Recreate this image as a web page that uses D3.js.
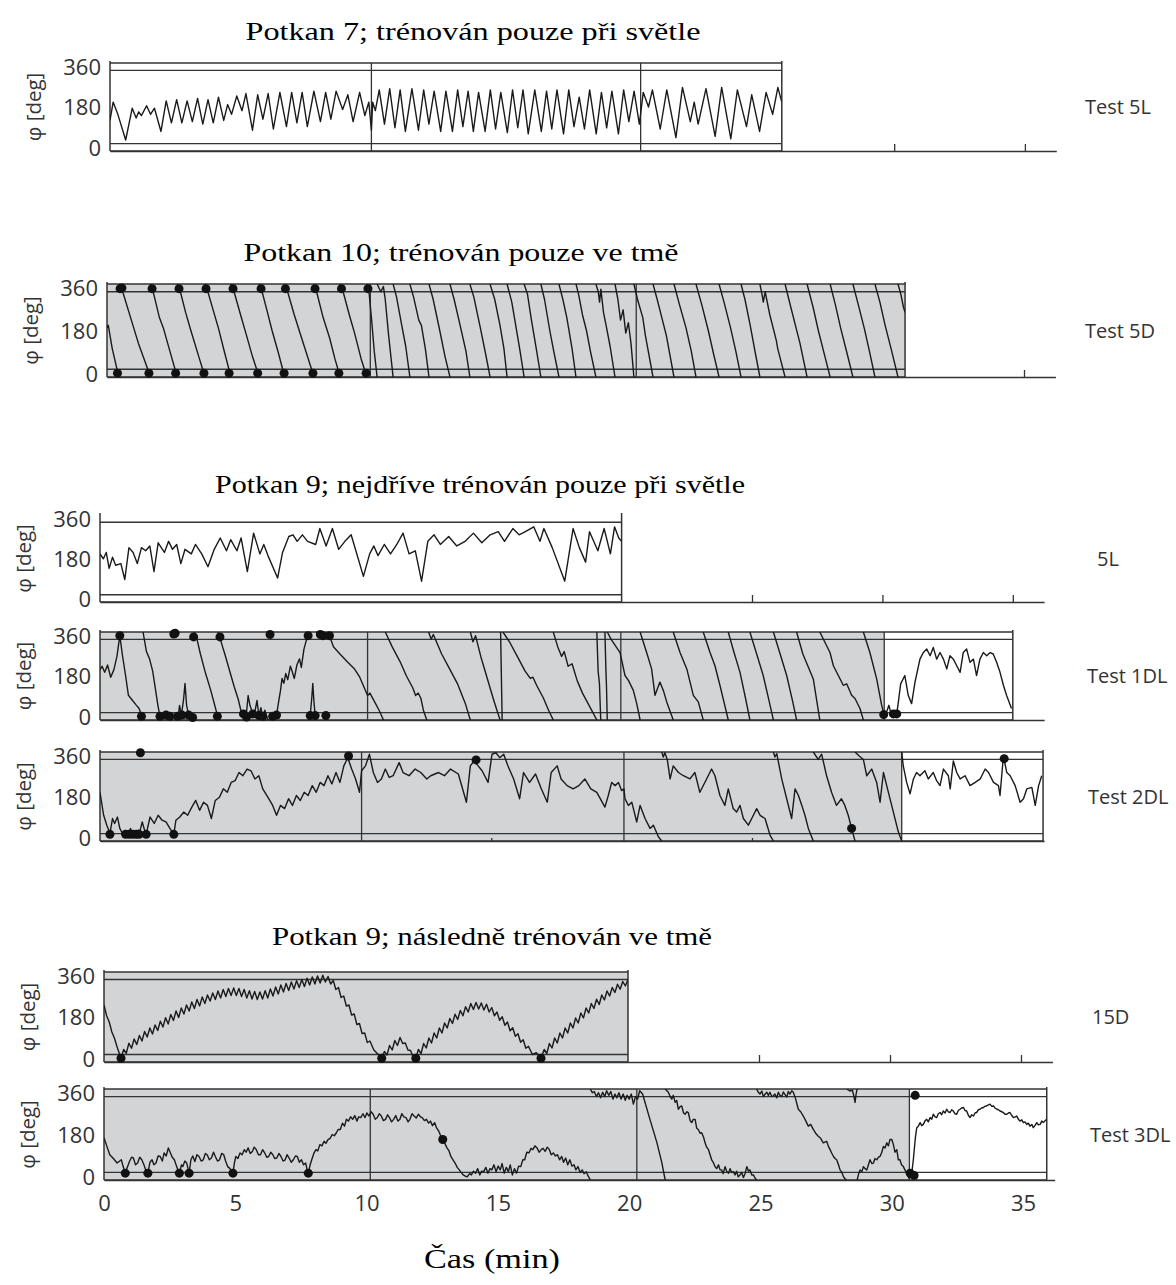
<!DOCTYPE html>
<html><head><meta charset="utf-8">
<script src="https://cdn.jsdelivr.net/npm/d3@7"></script>
<style>body{margin:0;background:#fff}</style>
</head><body>
<svg id="c" width="1176" height="1285"></svg>
<script>
// ---------------- DATA ----------------
const titles = ["Potkan 7; trénován pouze při světle","Potkan 10; trénován pouze ve tmě","Potkan 9; nejdříve trénován pouze při světle","Potkan 9; následně trénován ve tmě"];
const rightLabels = ["Test 5L","Test 5D","5L","Test 1DL","Test 2DL","15D","Test 3DL"];
const yLabel = "φ [deg]";
const xTitle = "Čas (min)";
const yTickValues = [0,180,360];
const xTickValues = [0,5,10,15,20,25,30,35];
const bandLines = [30,330];
const boxEnds = [25.7,30.46,20,35,36.16,20,35.9];
const shadeEnds = [0,30.46,0,30.07,30.74,20,30.67];
const dividers = [[10,20.3],[10.05,20.2],[],[10.26,19.97,30.07],[10.03,20.09,30.74],[],[10.14,20.29,30.67]];
const axisTicks = [[30,35],[35],[25,30,35],[],[15,25],[25,30,35],[]];

// Potkan 7, Test 5L
const trace5L_r7 = [[0,125],[0.12,200],[0.3,150],[0.6,45],[0.85,175],[1.0,135],[1.1,160],[1.2,145],[1.4,185],[1.55,150],[1.7,175],[1.95,80],[2.15,205],[2.35,115],[2.55,210],[2.75,115],[2.95,205],[3.15,120],[3.35,215],[3.55,110],[3.75,210],[3.95,115],[4.15,220],[4.35,125],[4.5,190],[4.65,150],[4.85,225],[5.05,165],[5.2,235],[5.45,85],[5.65,230],[5.85,130],[6.05,235],[6.25,90],[6.5,240],[6.75,100],[6.95,240],[7.15,115],[7.35,240],[7.55,100],[7.8,245],[8.05,120],[8.25,240],[8.45,130],[8.65,245],[8.9,170],[9.1,230],[9.3,120],[9.55,240],[9.75,145],[9.9,200],[10.0,85],
[10.05,200],[10.15,165],[10.3,250],[10.5,110],[10.7,255],[10.9,95],[11.1,250],[11.3,80],[11.55,255],[11.8,85],[12.0,250],[12.2,110],[12.4,245],[12.65,80],[12.85,245],[13.1,80],[13.3,250],[13.5,100],[13.7,245],[13.9,80],[14.1,240],[14.35,80],[14.55,250],[14.75,90],[14.95,240],[15.2,75],[15.4,250],[15.6,95],[15.8,250],[16.0,70],[16.25,250],[16.5,80],[16.7,245],[16.9,90],[17.1,250],[17.35,70],[17.55,250],[17.75,100],[17.95,220],[18.15,90],[18.35,250],[18.6,70],[18.8,240],[19.0,95],[19.2,245],[19.45,70],[19.65,250],[19.85,120],[20.05,245],[20.25,110],
[20.4,240],[20.6,180],[20.75,250],[21.05,90],[21.3,250],[21.65,55],[21.9,260],[22.2,120],[22.35,200],[22.5,110],[22.8,255],[23.15,60],[23.4,260],[23.75,50],[24.0,250],[24.35,100],[24.55,230],[24.85,80],[25.1,240],[25.35,150],[25.55,260],[25.7,200]];

// Potkan 10, Test 5D (null = wrap 0/360)
const trace5D_r10 = [[0,190],[0.05,200],[0.2,110],[0.45,0],null,
[0.45,360],[0.6,330],[0.9,230],[1.2,130],[1.45,60],[1.66,0],null,
[1.66,360],[1.75,335],[2.0,230],[2.15,190],[2.4,100],[2.68,0],null,
[2.68,360],[2.8,330],[3.0,250],[3.2,180],[3.5,80],[3.74,0],null,
[3.74,360],[3.85,330],[4.05,260],[4.25,190],[4.5,90],[4.73,0],null,
[4.73,360],[4.85,330],[5.1,240],[5.3,170],[5.55,80],[5.81,0],null,
[5.81,360],[5.92,330],[6.1,260],[6.3,180],[6.55,90],[6.78,0],null,
[6.78,360],[6.88,335],[7.15,240],[7.4,160],[7.65,80],[7.9,0],null,
[7.9,360],[8.0,330],[8.25,230],[8.5,150],[8.7,70],[8.9,0],null,
[8.9,360],[9.0,335],[9.25,240],[9.45,170],[9.7,70],[9.92,0],null,
[9.92,360],[10.0,330],[10.1,220],[10.2,100],[10.31,0],null,
[10.31,360],[10.45,330],[10.55,350],[10.62,300],[10.75,160],[10.92,0],null,
[10.92,360],[11.05,310],[11.25,200],[11.4,120],[11.56,0],null,
[11.56,360],[11.7,310],[11.9,220],[12.0,200],[12.15,110],[12.29,0],null,
[12.29,360],[12.45,300],[12.7,180],[12.9,80],[13.09,0],null,
[13.09,360],[13.25,300],[13.5,190],[13.7,100],[13.85,0],null,
[13.85,360],[14.0,310],[14.25,190],[14.45,90],[14.62,0],null,
[14.62,360],[14.8,300],[15.0,200],[15.15,110],[15.27,0],null,
[15.27,360],[15.45,290],[15.6,200],[15.75,110],[15.92,0],null,
[15.92,360],[16.05,320],[16.2,220],[16.4,100],[16.56,0],null,
[16.56,360],[16.7,300],[16.9,180],[17.05,100],[17.25,0],null,
[17.25,360],[17.4,300],[17.55,230],[17.6,200],[17.75,110],[17.9,0],null,
[17.9,360],[18.0,320],[18.15,240],[18.3,180],[18.45,100],[18.66,0],null,
[18.66,360],[18.75,330],[18.8,290],[18.85,340],[18.95,250],[19.05,200],[19.2,120],[19.39,0],null,
[19.39,360],[19.5,300],[19.6,220],[19.7,260],[19.8,170],[19.9,210],[20.0,130],[20.11,0],null,
[20.11,360],[20.25,300],[20.45,230],[20.55,160],[20.84,0],null,
[20.84,360],[21.0,300],[21.2,220],[21.35,160],[21.64,0],null,
[21.64,360],[21.85,280],[22.1,190],[22.3,100],[22.48,0],null,
[22.48,360],[22.7,280],[22.95,180],[23.15,90],[23.36,0],null,
[23.36,360],[23.55,290],[23.8,190],[24.0,100],[24.2,0],null,
[24.2,360],[24.35,300],[24.55,200],[24.75,90],[24.92,0],null,
[24.92,360],[25.0,320],[25.05,290],[25.12,330],[25.3,240],[25.55,140],[25.6,110],[25.88,0],null,
[25.88,360],[26.1,270],[26.3,190],[26.45,130],[26.72,0],null,
[26.72,360],[26.95,270],[27.15,180],[27.4,80],[27.6,0],null,
[27.6,360],[27.8,280],[28.0,190],[28.25,90],[28.47,0],null,
[28.47,360],[28.65,290],[28.9,190],[29.1,100],[29.31,0],null,
[29.31,360],[29.5,290],[29.7,200],[29.95,100],[30.19,0],null,
[30.19,360],[30.3,320],[30.4,270],[30.46,250]];
const dots5D_r10 = [[0.5,342],[0.57,345],[1.72,342],[2.75,342],[3.78,342],[4.81,342],[5.88,342],[6.81,342],[7.94,342],[8.95,342],[9.96,342],
[0.4,15],[1.6,15],[2.62,15],[3.7,15],[4.66,15],[5.75,15],[6.76,15],[7.86,15],[8.85,15],[9.89,15]];

// Potkan 9, 5L
const trace5L_r9 = [[0,199],[0.13,179],[0.24,205],[0.35,139],[0.48,185],[0.6,152],[0.8,159],[0.95,93],[1.11,225],[1.27,205],[1.43,159],[1.59,225],[1.75,212],[1.91,232],[2.07,126],[2.23,245],[2.47,205],[2.63,251],[2.78,218],[2.94,238],[3.1,159],[3.26,218],[3.5,199],[3.66,238],[3.9,199],[4.14,146],[4.38,218],[4.61,265],[4.85,212],[5.01,258],[5.25,212],[5.41,265],[5.65,126],[5.89,285],[6.13,199],[6.28,238],[6.44,192],[6.81,99],[7.0,205],[7.24,271],[7.4,278],[7.56,251],[7.76,278],[7.96,251],[8.27,238],[8.43,304],[8.67,232],[8.91,304],[9.15,218],[9.39,251],[9.63,278],[10.1,106],[10.34,199],[10.5,232],[10.66,192],[10.9,238],[11.14,199],[11.38,238],[11.62,285],[11.85,199],[12.09,212],[12.33,86],[12.57,251],[12.81,278],[13.05,238],[13.37,271],[13.68,232],[14.0,251],[14.32,285],[14.64,245],[14.96,278],[15.27,291],[15.51,251],[15.83,304],[16.07,278],[16.31,291],[16.63,311],[16.87,251],[17.02,304],[17.34,225],[17.82,86],[18.14,304],[18.38,225],[18.62,165],[18.77,291],[19.09,212],[19.33,304],[19.57,199],[19.73,311],[19.89,265],[20.0,251]];

// Potkan 9, Test 1DL
const trace1DL_r9 = [[0,205],[0.08,220],[0.18,195],[0.29,225],[0.41,175],[0.53,205],[0.65,260],[0.76,345],[0.86,265],[0.98,182],[1.09,101],[1.24,81],[1.39,61],[1.5,47],[1.62,7],[1.65,0],null,
[1.65,360],[1.78,280],[1.9,250],[2.02,200],[2.12,130],[2.22,60],[2.3,15],[2.4,10],[2.53,20],[2.6,8],[2.68,15],[2.75,5],[2.8,0],null,
[2.8,360],[2.86,340],[2.92,360],null,
[2.92,0],[3.0,15],[3.05,60],[3.12,20],[3.2,80],[3.26,150],[3.32,60],[3.4,20],[3.5,5],[3.58,15],[3.62,0],null,
[3.62,360],[3.72,330],[3.85,270],[4.05,190],[4.25,120],[4.45,40],[4.52,0],null,
[4.52,360],[4.6,335],[4.8,265],[5.0,190],[5.15,135],[5.3,85],[5.4,40],[5.5,25],[5.6,10],[5.68,100],[5.75,60],[5.86,25],[5.95,40],[6.02,80],[6.09,18],[6.17,50],[6.24,15],[6.32,40],[6.42,5],[6.48,0],null,
[6.48,360],[6.52,345],[6.56,360],null,
[6.56,0],[6.62,15],[6.7,25],[6.77,20],[6.85,75],[6.92,120],[6.98,170],[7.05,150],[7.12,190],[7.2,165],[7.3,220],[7.38,195],[7.45,170],[7.55,225],[7.65,250],[7.72,215],[7.82,290],[7.92,330],[8.0,360],null,
[8.0,0],[8.06,18],[8.12,90],[8.16,150],[8.2,80],[8.25,18],[8.3,0],null,
[8.3,360],[8.38,340],[8.45,350],[8.52,335],[8.58,350],[8.62,360],null,
[8.62,0],[8.66,18],[8.72,0],null,
[8.72,360],[8.8,345],[8.95,300],[9.2,270],[9.5,236],[9.75,210],[9.96,175],[10.1,140],[10.26,100],[10.35,110],[10.5,80],[10.7,40],[10.87,0],null,
[10.94,360],[11.2,300],[11.5,240],[11.75,180],[12.0,130],[12.1,100],[12.2,110],[12.3,90],[12.4,40],[12.53,0],null,
[12.6,360],[12.7,330],[12.78,350],[12.9,320],[13.1,270],[13.4,210],[13.7,150],[14.0,70],[14.2,0],null,
[14.2,360],[14.3,320],[14.4,345],[14.6,260],[14.85,170],[15.1,80],[15.34,0],null,
[15.36,360],[15.42,0],null,
[15.45,360],[15.7,320],[16.0,260],[16.3,200],[16.5,170],[16.6,175],[16.75,140],[17.0,90],[17.2,40],[17.38,0],null,
[17.38,360],[17.55,300],[17.7,260],[17.8,280],[17.95,220],[18.1,230],[18.3,160],[18.5,110],[18.7,70],[18.9,30],[19.05,0],null,
[19.05,360],[19.1,200],[19.15,150],[19.2,0],null,
[19.36,360],[19.4,200],[19.42,140],[19.45,0],null,
[19.45,360],[19.6,330],[19.94,276],[20.13,182],[20.26,162],[20.45,121],[20.58,67],[20.71,0],null,
[20.71,360],[20.96,276],[21.15,209],[21.28,101],[21.47,155],[21.6,121],[21.73,74],[21.98,0],null,
[21.98,360],[22.24,276],[22.5,209],[22.75,101],[22.94,74],[23.13,0],null,
[23.13,360],[23.39,276],[23.58,222],[23.77,142],[24.09,0],null,
[24.09,360],[24.3,280],[24.54,195],[24.75,90],[24.92,0],null,
[24.92,360],[25.15,280],[25.43,182],[25.65,80],[25.82,0],null,
[25.82,360],[26.05,280],[26.33,182],[26.55,80],[26.71,0],null,
[26.71,360],[26.95,270],[27.35,168],[27.6,0],null,
[27.6,360],[27.99,276],[28.12,222],[28.31,182],[28.5,142],[28.63,148],[28.82,101],[28.95,88],[29.14,47],[29.27,0],null,
[29.27,360],[29.52,276],[29.78,168],[29.97,61],[30.07,20],[30.15,30],[30.25,60],[30.32,30],[30.42,25],[30.5,30],[30.55,25],[30.62,80],[30.7,148],[30.86,182],[30.99,101],[31.12,67],[31.25,155],[31.44,249],[31.57,276],[31.7,290],[31.83,263],[31.95,297],[32.08,249],[32.21,276],[32.34,249],[32.47,209],[32.59,263],[32.72,249],[32.85,222],[32.98,195],[33.1,276],[33.23,290],[33.36,236],[33.49,249],[33.61,182],[33.74,249],[33.87,276],[34.0,263],[34.13,276],[34.25,270],[34.38,236],[34.51,195],[34.64,142],[34.76,101],[34.95,47]];
const dots1DL_r9 = [[0.76,345],[2.83,352],[2.88,355],[3.59,340],[4.6,340],[6.52,350],[7.98,345],[8.45,350],[8.55,345],[8.8,345],
[1.59,15],[2.3,15],[2.53,20],[2.68,15],[2.98,15],[3.14,20],[3.4,20],[3.55,10],[4.5,15],[5.5,25],[5.62,12],[5.86,25],[6.09,18],[6.24,15],[6.62,15],[6.77,20],[8.06,18],[8.25,18],[8.66,18],[30.05,22],[30.42,25],[30.55,25]];

// Potkan 9, Test 2DL
const trace2DL_r9 = [[0,197],[0.14,104],[0.26,64],[0.38,31],[0.48,91],[0.56,71],[0.67,97],[0.76,51],[0.86,31],[1.02,37],[1.09,28],[1.17,51],[1.24,28],[1.32,31],[1.39,27],[1.47,44],[1.5,27],[1.62,77],[1.72,40],[1.77,27],[1.92,97],[2.08,71],[2.23,104],[2.38,84],[2.53,77],[2.68,51],[2.83,27],[2.91,84],[3.06,97],[3.21,117],[3.36,104],[3.52,137],[3.67,164],[3.82,124],[3.97,157],[4.12,144],[4.27,91],[4.42,164],[4.58,177],[4.73,211],[4.88,197],[5.03,237],[5.18,244],[5.33,277],[5.48,264],[5.64,291],[5.79,284],[5.94,251],[6.09,264],[6.24,211],[6.47,171],[6.62,144],[6.77,104],[6.92,144],[7.08,131],[7.23,171],[7.38,144],[7.53,184],[7.68,164],[7.83,197],[7.98,184],[8.14,224],[8.29,197],[8.44,237],[8.59,224],[8.74,264],[8.89,231],[9.05,277],[9.2,237],[9.35,304],[9.5,337],[9.65,291],[9.8,251],[9.95,197],[10.03,284],[10.18,304],[10.33,351],[10.48,277],[10.64,237],[10.79,251],[10.94,291],[11.09,257],[11.24,264],[11.47,317],[11.62,277],[11.85,264],[12.08,291],[12.3,277],[12.53,251],[12.68,264],[12.98,277],[13.21,264],[13.44,291],[13.74,271],[14.05,157],[14.2,304],[14.35,324],[14.5,304],[14.65,284],[14.88,237],[15.03,351],[15.18,357],[15.33,337],[15.48,351],[15.64,304],[15.86,251],[16.09,171],[16.24,277],[16.47,237],[16.7,271],[16.92,211],[17.15,157],[17.3,277],[17.53,304],[17.68,251],[17.91,224],[18.14,211],[18.36,224],[18.59,251],[18.82,211],[19.05,197],[19.36,137],[19.49,184],[19.62,237],[19.75,224],[19.88,237],[20.0,204],[20.09,211],[20.13,171],[20.26,144],[20.39,157],[20.58,77],[20.71,144],[20.9,91],[21.09,51],[21.22,64],[21.41,17],[21.54,0],null,
[21.54,360],[21.6,340],[21.66,357],[21.75,330],[21.86,251],[21.98,304],[22.18,277],[22.37,264],[22.62,251],[22.81,277],[23.0,197],[23.26,251],[23.45,291],[23.58,264],[23.77,184],[23.96,144],[24.09,211],[24.28,131],[24.41,117],[24.54,144],[24.67,91],[24.86,64],[24.99,91],[25.18,131],[25.31,104],[25.5,91],[25.69,24],[25.82,0],null,
[25.82,360],[25.88,340],[25.95,353],[26.14,251],[26.33,171],[26.52,91],[26.65,211],[26.78,184],[26.91,144],[27.03,104],[27.16,51],[27.35,0],null,
[27.35,360],[27.54,330],[27.67,351],[27.86,264],[28.05,197],[28.24,144],[28.43,171],[28.56,144],[28.69,104],[28.82,51],[28.95,0],null,
[28.95,360],[29.1,345],[29.27,330],[29.4,264],[29.59,291],[29.78,237],[29.91,157],[30.04,277],[30.23,197],[30.42,117],[30.61,37],[30.74,0],null,
[30.74,360],[30.8,304],[30.93,237],[31.06,191],[31.19,251],[31.31,277],[31.44,264],[31.63,284],[31.76,251],[31.95,277],[32.08,244],[32.21,224],[32.34,291],[32.53,264],[32.6,211],[32.72,324],[32.85,277],[32.98,251],[33.17,264],[33.36,224],[33.56,237],[33.75,251],[33.94,291],[34.07,277],[34.26,237],[34.45,224],[34.51,184],[34.64,344],[34.77,277],[34.9,264],[35.09,224],[35.28,157],[35.41,171],[35.54,211],[35.73,217],[35.86,144],[35.99,224],[36.11,264]];
const dots2DL_r9 = [[0.38,27],[0.98,27],[1.12,27],[1.26,27],[1.39,27],[1.5,27],[1.77,27],[2.83,27],[1.55,357],[9.53,344],[14.42,328],[28.82,51],[34.67,333]];

// Potkan 9, 15D
const trace15D_r9 = [[0,228],[0.1,185],[0.2,160],[0.3,120],[0.4,95],[0.5,60],[0.65,15],[0.75,50],[0.85,35],[0.95,75],[1.05,55],[1.15,92],[1.25,70],[1.35,106],[1.45,84],[1.55,122],[1.65,100],[1.75,136],[1.85,112],[1.95,148],[2.05,126],[2.15,163],[2.25,140],[2.35,177],[2.45,152],[2.55,190],[2.65,166],[2.75,204],[2.85,178],[2.95,216],[3.05,192],[3.15,228],[3.25,204],[3.35,240],[3.45,214],[3.55,250],[3.65,224],[3.75,260],[3.85,234],[3.95,268],[4.05,244],[4.15,276],[4.25,250],[4.35,284],[4.45,256],[4.55,290],[4.65,262],[4.75,294],[4.85,266],[4.95,296],[5.05,266],[5.15,294],[5.25,262],[5.35,290],[5.45,256],[5.55,285],[5.65,252],[5.75,282],[5.85,250],[5.95,280],[6.05,252],[6.15,285],[6.25,256],[6.35,292],[6.45,264],[6.55,300],[6.65,272],[6.75,308],[6.85,280],[6.95,314],[7.05,286],[7.15,320],[7.25,292],[7.35,325],[7.45,298],[7.55,330],[7.65,302],[7.75,335],[7.85,308],[7.95,340],[8.05,312],[8.15,344],[8.25,316],[8.35,347],[8.45,320],[8.55,342],[8.65,312],[8.75,326],[8.85,290],[8.95,298],[9.05,258],[9.15,264],[9.25,224],[9.35,228],[9.45,188],[9.55,192],[9.65,150],[9.75,154],[9.85,114],[9.95,116],[10.05,78],[10.15,84],[10.3,48],[10.45,32],[10.6,15],[10.7,42],[10.8,28],[10.9,66],[11.0,48],[11.1,86],[11.2,66],[11.3,98],[11.4,74],[11.5,76],[11.6,48],[11.7,46],[11.8,20],[11.9,15],[12.0,50],[12.1,34],[12.2,74],[12.3,56],[12.4,96],[12.5,76],[12.6,116],[12.7,96],[12.8,136],[12.9,116],[13.0,156],[13.1,136],[13.2,174],[13.3,154],[13.4,191],[13.5,170],[13.6,206],[13.7,185],[13.8,221],[13.9,200],[14.0,234],[14.1,210],[14.2,238],[14.3,212],[14.4,236],[14.5,208],[14.6,231],[14.7,200],[14.8,218],[14.9,185],[15.0,200],[15.1,167],[15.2,181],[15.3,147],[15.4,160],[15.5,125],[15.6,137],[15.7,103],[15.8,113],[15.9,79],[16.0,89],[16.1,55],[16.2,63],[16.35,30],[16.5,37],[16.68,15],[16.8,50],[16.9,34],[17.0,74],[17.1,56],[17.2,96],[17.3,76],[17.4,116],[17.5,96],[17.6,136],[17.7,116],[17.8,156],[17.9,136],[18.0,176],[18.1,156],[18.2,196],[18.3,176],[18.4,216],[18.5,196],[18.6,234],[18.7,214],[18.8,251],[18.9,230],[19.0,268],[19.1,248],[19.2,284],[19.3,264],[19.4,298],[19.5,278],[19.6,311],[19.7,291],[19.8,322],[19.9,304],[20.0,330]];
const dots15D_r9 = [[0.65,15],[10.6,15],[11.9,15],[16.68,15]];

// Potkan 9, Test 3DL
const trace3DL_r9 = [[0,167],[0.11,133],[0.22,100],[0.34,87],[0.5,67],[0.66,80],[0.73,53],[0.81,29],[0.97,73],[1.05,90],[1.12,87],[1.2,60],[1.28,67],[1.36,90],[1.44,80],[1.52,60],[1.59,40],[1.67,27],[1.75,70],[1.83,80],[1.9,60],[1.98,67],[2.06,95],[2.14,93],[2.22,75],[2.29,107],[2.37,95],[2.45,127],[2.53,107],[2.6,90],[2.68,80],[2.76,55],[2.84,33],[2.87,27],[2.95,60],[3.0,53],[3.08,75],[3.15,67],[3.24,27],[3.31,80],[3.38,95],[3.46,73],[3.54,100],[3.62,93],[3.7,75],[3.78,80],[3.86,105],[3.93,100],[4.01,80],[4.09,87],[4.17,110],[4.24,93],[4.32,75],[4.4,80],[4.48,105],[4.56,100],[4.63,75],[4.71,53],[4.8,45],[4.87,33],[4.91,27],[4.97,70],[5.02,93],[5.1,85],[5.18,107],[5.26,100],[5.34,120],[5.41,110],[5.49,127],[5.57,105],[5.65,113],[5.72,130],[5.8,120],[5.88,100],[5.96,100],[6.04,120],[6.12,107],[6.2,90],[6.27,93],[6.35,110],[6.43,100],[6.5,85],[6.58,87],[6.66,105],[6.74,93],[6.82,75],[6.9,80],[6.97,100],[7.05,87],[7.13,70],[7.21,80],[7.29,95],[7.36,93],[7.44,70],[7.52,80],[7.6,60],[7.68,67],[7.75,33],[7.78,27],[7.85,60],[7.91,80],[7.99,105],[8.07,120],[8.14,115],[8.22,140],[8.3,135],[8.38,153],[8.45,145],[8.53,160],[8.61,165],[8.69,180],[8.77,175],[8.85,187],[8.92,200],[9.0,200],[9.08,225],[9.16,213],[9.23,240],[9.31,233],[9.39,250],[9.47,240],[9.55,255],[9.63,233],[9.7,250],[9.78,247],[9.86,262],[9.94,247],[10.01,265],[10.09,253],[10.17,270],[10.25,260],[10.33,240],[10.41,247],[10.48,262],[10.56,253],[10.64,235],[10.72,240],[10.8,258],[10.87,247],[10.95,230],[11.03,240],[11.11,255],[11.19,233],[11.27,240],[11.34,262],[11.42,250],[11.5,247],[11.58,230],[11.65,240],[11.73,262],[11.81,253],[11.89,245],[11.97,260],[12.05,250],[12.12,247],[12.2,235],[12.28,240],[12.36,225],[12.43,233],[12.51,215],[12.59,227],[12.67,205],[12.75,193],[12.82,175],[12.9,160],[12.98,145],[13.06,127],[13.14,115],[13.21,93],[13.29,80],[13.37,67],[13.45,50],[13.53,40],[13.6,30],[13.68,20],[13.76,15],[13.84,13],[13.92,25],[13.99,20],[14.07,35],[14.15,27],[14.23,45],[14.31,20],[14.38,35],[14.46,33],[14.54,50],[14.62,27],[14.7,45],[14.77,40],[14.85,60],[14.93,33],[15.01,55],[15.09,40],[15.16,65],[15.24,27],[15.32,50],[15.4,33],[15.47,60],[15.55,20],[15.63,45],[15.71,27],[15.79,55],[15.87,53],[15.95,80],[16.02,80],[16.1,110],[16.18,107],[16.26,125],[16.33,120],[16.41,135],[16.49,127],[16.57,110],[16.65,120],[16.72,125],[16.8,113],[16.88,130],[16.96,120],[17.03,100],[17.11,107],[17.19,95],[17.27,100],[17.35,80],[17.43,93],[17.5,70],[17.58,87],[17.66,60],[17.74,80],[17.82,55],[17.9,60],[17.97,40],[18.05,53],[18.13,30],[18.21,40],[18.28,25],[18.36,33],[18.44,15],[18.52,0],null,
[18.52,360],[18.6,345],[18.67,350],[18.75,330],[18.83,345],[18.91,325],[18.99,347],[19.07,330],[19.14,353],[19.22,335],[19.3,350],[19.38,320],[19.46,340],[19.53,325],[19.61,345],[19.69,320],[19.77,340],[19.85,315],[19.92,335],[20.0,320],[20.08,340],[20.16,300],[20.24,330],[20.32,320],[20.4,353],[20.51,340],[20.79,240],[21.05,150],[21.24,70],[21.37,0],null,
[21.37,360],[21.49,347],[21.56,330],[21.62,320],[21.68,335],[21.75,307],[21.81,315],[21.87,280],[21.94,290],[22.0,293],[22.07,265],[22.13,260],[22.19,270],[22.25,267],[22.32,235],[22.38,227],[22.44,240],[22.51,240],[22.57,205],[22.63,200],[22.7,185],[22.76,187],[22.83,170],[22.89,147],[22.95,130],[23.02,120],[23.08,100],[23.14,80],[23.2,70],[23.27,53],[23.33,45],[23.4,60],[23.46,40],[23.52,40],[23.58,25],[23.65,53],[23.71,35],[23.78,27],[23.84,45],[23.9,30],[23.97,33],[24.03,20],[24.09,35],[24.15,13],[24.22,20],[24.28,30],[24.35,10],[24.41,25],[24.48,53],[24.54,35],[24.6,40],[24.67,20],[24.73,20],[24.79,8],[24.85,0],null,
[24.85,360],[24.92,347],[24.98,340],[25.05,352],[25.11,330],[25.17,339],[25.24,347],[25.3,335],[25.36,347],[25.43,330],[25.49,333],[25.55,340],[25.62,325],[25.68,347],[25.74,335],[25.81,330],[25.87,348],[25.93,339],[26.0,328],[26.06,350],[26.12,340],[26.19,353],[26.25,347],[26.34,320],[26.44,280],[26.53,270],[26.63,253],[26.72,235],[26.82,213],[26.91,220],[27.01,200],[27.1,185],[27.2,173],[27.29,165],[27.39,147],[27.45,150],[27.52,153],[27.58,135],[27.65,120],[27.71,107],[27.78,93],[27.84,85],[27.9,80],[27.97,60],[28.03,40],[28.1,30],[28.16,13],[28.22,5],[28.28,0],null,
[28.28,360],[28.4,352],[28.5,355],[28.56,330],[28.6,307],[28.64,340],[28.68,360],null,
[28.68,0],[28.74,25],[28.79,40],[28.86,33],[28.92,53],[28.98,45],[29.05,40],[29.11,60],[29.17,80],[29.24,65],[29.3,67],[29.36,85],[29.43,80],[29.49,90],[29.55,93],[29.62,110],[29.68,133],[29.74,127],[29.81,147],[29.87,135],[29.93,160],[30.0,160],[30.06,140],[30.12,110],[30.19,120],[30.25,80],[30.31,80],[30.37,60],[30.44,53],[30.5,40],[30.57,27],[30.62,15],[30.67,5],[30.76,27],[30.82,80],[30.9,170],[30.95,207],[31.01,213],[31.08,227],[31.14,215],[31.2,220],[31.27,235],[31.33,240],[31.39,230],[31.46,247],[31.52,240],[31.58,260],[31.65,250],[31.71,247],[31.77,262],[31.84,267],[31.9,258],[31.96,273],[32.03,265],[32.09,280],[32.15,270],[32.22,267],[32.28,278],[32.34,273],[32.41,262],[32.47,260],[32.53,275],[32.6,280],[32.66,285],[32.73,287],[32.79,275],[32.85,273],[32.92,255],[32.98,247],[33.04,258],[33.11,253],[33.17,265],[33.23,267],[33.3,278],[33.36,280],[33.42,285],[33.49,287],[33.55,292],[33.61,293],[33.68,297],[33.74,300],[33.8,292],[33.87,293],[33.93,285],[34.0,280],[34.06,278],[34.12,273],[34.19,270],[34.25,267],[34.31,260],[34.38,260],[34.44,265],[34.5,267],[34.57,255],[34.63,247],[34.7,250],[34.76,253],[34.82,240],[34.88,233],[34.95,238],[35.01,227],[35.07,230],[35.14,220],[35.2,225],[35.26,213],[35.33,220],[35.39,207],[35.45,215],[35.52,227],[35.58,218],[35.65,220],[35.71,233],[35.77,227],[35.84,235],[35.9,240]];
const dots3DL_r9 = [[0.81,27],[1.67,27],[2.87,27],[3.24,27],[4.91,27],[7.78,27],[12.9,160],[30.7,27],[30.85,18],[30.89,335]];

const traces = [trace5L_r7, trace5D_r10, trace5L_r9, trace1DL_r9, trace2DL_r9, trace15D_r9, trace3DL_r9];
const dotSets = [[], dots5D_r10, [], dots1DL_r9, dots2DL_r9, dots15D_r9, dots3DL_r9];

// ---------------- LAYOUT ----------------
const layout = [
 {left:110, top:63,   bottom:151,  k:26.14, topBorder:true,  title:0, titleX:473, titleY:40,  titleW:455, rx:1085},
 {left:107, top:284,  bottom:377,  k:26.2,  topBorder:true,  title:1, titleX:461, titleY:261, titleW:435, rx:1085},
 {left:100, top:515,  bottom:602,  k:26.08, topBorder:false, title:2, titleX:480, titleY:493, titleW:530, rx:1097},
 {left:100, top:632,  bottom:720,  k:26.08, topBorder:true,  rx:1087},
 {left:100, top:752,  bottom:841,  k:26.08, topBorder:true,  rx:1088},
 {left:104, top:972,  bottom:1062, k:26.2,  topBorder:true,  title:3, titleX:492, titleY:945, titleW:440, rx:1092},
 {left:104, top:1089, bottom:1180, k:26.26, topBorder:true,  rx:1090, xlabels:true}
];
const AX_END = 36.2;
const SANS = "'Open Sans', 'DejaVu Sans', sans-serif";
const SERIF = "'Liberation Serif', 'Times New Roman', serif";
const INK = "#1a1a1a";
const svg = d3.select("#c");
const defs = svg.append("defs");

layout.forEach((L, i) => {
  const x = d3.scaleLinear().domain([0, AX_END]).range([L.left, L.left + AX_END * L.k]);
  const y = d3.scaleLinear().domain([0, 360]).range([L.bottom, L.top]);
  const g = svg.append("g");
  const xe = x(boxEnds[i]);

  if (L.title !== undefined) {
    svg.append("text").attr("x", L.titleX).attr("y", L.titleY).attr("text-anchor", "middle")
      .attr("font-family", SERIF).attr("font-size", 26).attr("fill", "#000")
      .attr("textLength", L.titleW).attr("lengthAdjust", "spacingAndGlyphs").text(titles[L.title]);
  }
  if (shadeEnds[i] > 0) {
    g.append("rect").attr("x", x(0)).attr("y", y(360)).attr("width", x(shadeEnds[i]) - x(0))
      .attr("height", y(0) - y(360)).attr("fill", "#d3d4d6");
  }
  const ax = d3.axisBottom(x).tickValues(axisTicks[i]).tickSize(i === 4 ? -3 : -7).tickFormat("").tickSizeOuter(0);
  const axg = g.append("g").attr("transform", `translate(0,${L.bottom})`).call(ax);
  axg.select(".domain").attr("stroke", "#333").attr("stroke-width", 1.5);
  axg.selectAll(".tick line").attr("stroke", "#333").attr("stroke-width", 1.3);

  bandLines.forEach(b => {
    g.append("line").attr("x1", x(0)).attr("x2", xe).attr("y1", y(b)).attr("y2", y(b))
      .attr("stroke", "#333").attr("stroke-width", 1.3);
  });
  dividers[i].forEach(dv => {
    g.append("line").attr("x1", x(dv)).attr("x2", x(dv)).attr("y1", y(360)).attr("y2", y(0))
      .attr("stroke", "#333").attr("stroke-width", 1.3);
  });
  const bx = g.append("g").attr("stroke", "#333").attr("stroke-width", 1.5).attr("fill", "none");
  bx.append("line").attr("x1", x(0)).attr("x2", x(0)).attr("y1", y(360) - 2).attr("y2", y(0));
  bx.append("line").attr("x1", xe).attr("x2", xe).attr("y1", y(360) - 2).attr("y2", y(0));
  bx.append("line").attr("x1", x(0)).attr("x2", xe).attr("y1", y(0)).attr("y2", y(0));
  if (L.topBorder) bx.append("line").attr("x1", x(0)).attr("x2", xe).attr("y1", y(360)).attr("y2", y(360));

  const cid = "clip" + i;
  defs.append("clipPath").attr("id", cid).append("rect")
    .attr("x", x(0)).attr("y", y(360)).attr("width", xe - x(0)).attr("height", y(0) - y(360));
  const line = d3.line().defined(d => d !== null).x(d => x(d[0])).y(d => y(d[1]));
  g.append("path").datum(traces[i]).attr("clip-path", `url(#${cid})`).attr("d", line)
    .attr("fill", "none").attr("stroke", INK).attr("stroke-width", 1.4).attr("stroke-linejoin", "round");
  g.selectAll("circle.dot").data(dotSets[i]).join("circle").attr("class", "dot")
    .attr("cx", d => x(d[0])).attr("cy", d => y(d[1])).attr("r", 4.5).attr("fill", "#111");

  const ya = d3.axisLeft(y).tickValues(yTickValues).tickSize(0).tickPadding(9);
  const yg = g.append("g").attr("transform", `translate(${L.left},0)`).call(ya);
  yg.select(".domain").remove();
  yg.selectAll("text").attr("font-family", SANS).attr("font-size", 22).attr("fill", "#333")
    .attr("dy", d => d === 360 ? "0.5em" : (d === 0 ? "0.22em" : "0.35em"));
  g.append("text").attr("transform", `translate(${L.left - 76},${(L.top + L.bottom) / 2}) rotate(-90)`)
    .attr("text-anchor", "middle").attr("dy", "0.35em").attr("font-family", SANS).attr("font-size", 20.5)
    .attr("fill", "#333").text(yLabel);
  g.append("text").attr("x", L.rx).attr("y", (L.top + L.bottom) / 2).attr("dy", "0.35em")
    .attr("font-family", SANS).attr("font-size", 20).attr("fill", "#333").text(rightLabels[i]);

  if (L.xlabels) {
    const xa = d3.axisBottom(x).tickValues(xTickValues).tickSize(0).tickPadding(15);
    const xg = g.append("g").attr("transform", `translate(0,${L.bottom})`).call(xa);
    xg.select(".domain").remove();
    xg.selectAll("text").attr("font-family", SANS).attr("font-size", 22).attr("fill", "#333");
  }
});

svg.append("text").attr("x", 492).attr("y", 1268).attr("text-anchor", "middle")
  .attr("font-family", SERIF).attr("font-size", 28).attr("fill", "#000")
  .attr("textLength", 136).attr("lengthAdjust", "spacingAndGlyphs").text(xTitle);
</script>
</body></html>
